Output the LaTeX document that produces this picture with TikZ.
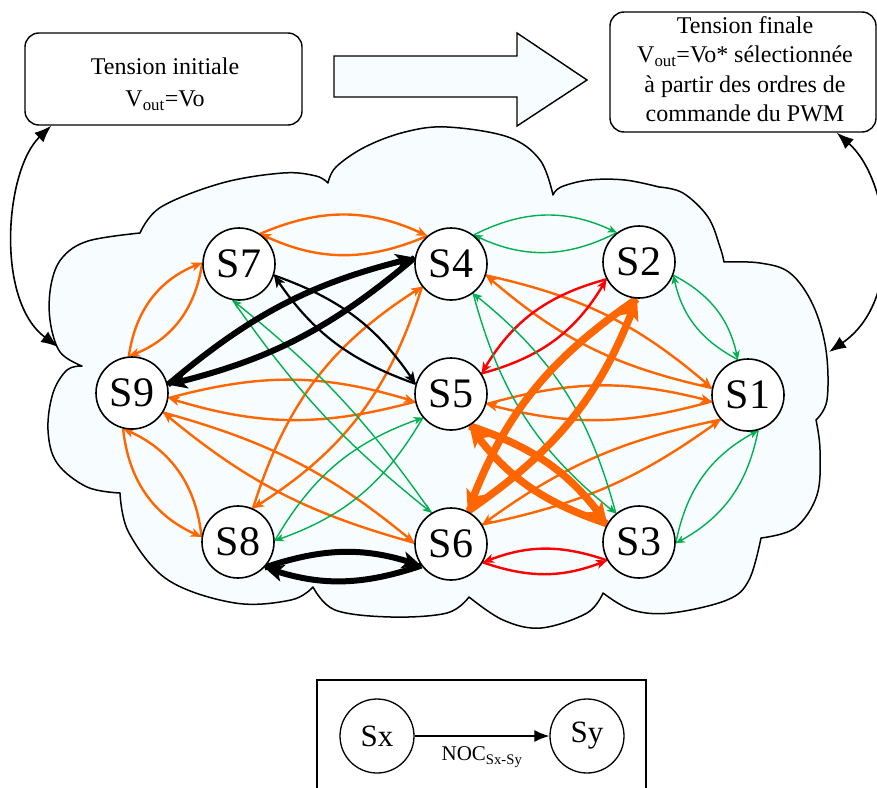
\documentclass[tikz,border=0pt]{standalone}
\usepackage{fontspec}
\setmainfont{Liberation Serif}
\usetikzlibrary{arrows.meta,backgrounds}
\definecolor{orng}{RGB}{255,102,0}
\definecolor{grn}{RGB}{0,176,80}
\definecolor{rdd}{RGB}{255,0,0}
\definecolor{cloudfill}{RGB}{247,252,254}
\begin{document}
\begin{tikzpicture}[x=1pt,y=-1pt,
  st/.style={circle,draw,line width=1.6pt,fill=white,minimum size=72pt,inner sep=0pt,font=\fontsize{42}{42}\selectfont},
  lg/.style={circle,draw,line width=1.3pt,fill=white,minimum size=74pt,inner sep=0pt,font=\fontsize{31}{31}\selectfont},
  box/.style={draw,line width=1.4pt,rounded corners=14pt,fill=white},
  btxt/.style={align=center,font=\fontsize{24}{29.5}\selectfont,inner sep=0pt},
  eOr/.style={draw=orng,line width=2.4pt,-{Stealth[length=11pt,width=9pt,inset=3pt]},orng},
  eRd/.style={draw=rdd,line width=2.4pt,-{Stealth[length=11pt,width=9pt,inset=3pt]},rdd},
  eGr/.style={draw=grn,line width=1.4pt,-{Stealth[length=9pt,width=7.5pt,inset=2.5pt]},grn},
  eBk/.style={draw=black,line width=2.2pt,-{Stealth[length=12pt,width=10pt,inset=3pt]}},
  eBkT/.style={draw=black,line width=6pt,-{Stealth[length=19pt,width=17pt,inset=5pt]}},
  eOrT/.style={draw=orng,line width=7.5pt,-{Stealth[length=21pt,width=19pt,inset=5pt]},orng},
  dbl/.style={line width=1.6pt,{Latex[length=17pt,width=13pt]}-{Latex[length=17pt,width=13pt]}},
]
\useasboundingbox (0,0) rectangle (877,787);

% cloud
\begin{scope}[on background layer]
\filldraw[fill=cloudfill,line width=1.5pt,line join=round]
  plot[smooth,tension=0.6] coordinates {(82,366) (60,352) (50,320) (51,285) (62,258) (88,241) (140,233)}
  -- plot[smooth,tension=0.6] coordinates {(140,233) (161,207) (222,183) (283,173) (316,176) (328,183)}
  -- plot[smooth,tension=0.6] coordinates {(328,183) (336,167) (365,147) (405,132) (447,127) (508,137) (540,160) (553,195)}
  -- plot[smooth,tension=0.6] coordinates {(553,195) (561,187) (589,180) (625,180) (659,187)}
  -- plot[smooth,tension=0.6] coordinates {(659,187) (683,193) (708,217) (720,247) (724,262)}
  -- plot[smooth,tension=0.6] coordinates {(724,262) (760,263) (790,273) (813,305) (826,350) (827,400) (816,420)}
  -- plot[smooth,tension=0.6] coordinates {(816,420) (820,450) (817,495) (795,528) (761,538)}
  -- plot[smooth,tension=0.6] coordinates {(761,538) (749,580) (727,600) (671,613) (632,610) (603,593)}
  -- plot[smooth,tension=0.6] coordinates {(603,593) (587,613) (541,628) (503,620) (469,597)}
  -- plot[smooth,tension=0.6] coordinates {(469,597) (447,613) (391,617) (335,610) (313,587)}
  -- plot[smooth,tension=0.6] coordinates {(313,587) (291,600) (235,603) (168,580) (129,533) (120,493)}
  -- plot[smooth,tension=0.6] coordinates {(120,493) (87,487) (57,463) (48,430) (53,393) (67,370) (82,366)}
  -- cycle;
\end{scope}

% top boxes and big arrow
\node[box,minimum width=277pt,minimum height=92pt] (lbox) at (163.5,79) {};
\node[btxt] (ltxt) at (165,84) {Tension initiale\\[3pt]V\textsubscript{out}=Vo};
\node[box,minimum width=266pt,minimum height=120pt] (rbox) at (743,72) {};
\node[btxt] (rtxt) at (745,69) {Tension finale\\V\textsubscript{out}=Vo* sélectionnée\\à partir des ordres de\\commande du PWM};
\filldraw[fill=cloudfill,line width=1.4pt,line join=miter]
  (334,56) -- (517,56) -- (517,33) -- (587,80) -- (517,126) -- (517,97) -- (334,97) -- cycle;

% states
\node[st] (S7) at (239,264) {S7};
\node[st] (S4) at (451,264) {S4};
\node[st] (S2) at (639,262) {S2};
\node[st] (S9) at (132,393) {S9};
\node[st] (S5) at (451,394) {S5};
\node[st] (S1) at (748,395) {S1};
\node[st] (S8) at (238,542) {S8};
\node[st] (S6) at (451,544) {S6};
\node[st] (S3) at (639,542) {S3};

% connectors to the boxes
\coordinate (la) at ([xshift=27pt]lbox.south west);
\coordinate (lc) at (58,347);
\coordinate (ra) at ([xshift=-40pt]rbox.south east);
\coordinate (rc) at (829,352);
\draw[dbl] (la) .. controls (5,170) and (-5,300) .. (lc);
\draw[dbl] (ra) .. controls (890,180) and (905,300) .. (rc);

\begin{scope}[on background layer]
% orange thin
\draw[eOr] (S7.55) to[bend left=24] (S4.130);
\draw[eOr] (S4.130) to[bend left=24] (S7.55);
\draw[eOr] (S9.95) to[bend left=30] (S7.178);
\draw[eOr] (S7.178) to[bend left=30] (S9.95);
\draw[eOr] (S9.256) to[bend right=30] (S8.172);
\draw[eOr] (S8.172) to[bend right=30] (S9.256);
\draw[eOr] (S9.352) to[bend left=16] (S5.192);
\draw[eOr] (S5.192) to[bend left=16] (S9.352);
\draw[eOr] (S9.328) to[bend left=12] (S6.178);
\draw[eOr] (S6.178) to[bend left=12] (S9.328);
\draw[eOr] (S8.66) to[bend left=20] (S4.218);
\draw[eOr] (S4.218) to[bend left=20] (S8.66);
\draw[eOr] (S4.342) to[bend left=14] (S1.169);
\draw[eOr] (S1.169) to[bend left=14] (S4.342);
\draw[eOr] (S5.344) to[bend left=15] (S1.190);
\draw[eOr] (S1.190) to[bend left=15] (S5.344);
\draw[eOr] (S6.32) to[bend right=12] (S1.222);
\draw[eOr] (S1.222) to[bend right=12] (S6.32);
% red
\draw[eRd] (S5.34) to[bend right=22] (S2.208);
\draw[eRd] (S2.208) to[bend right=22] (S5.34);
\draw[eRd] (S6.330) to[bend right=20] (S3.210);
\draw[eRd] (S3.210) to[bend right=20] (S6.330);
% green
\draw[eGr] (S4.52) to[bend left=26] (S2.127);
\draw[eGr] (S2.127) to[bend left=26] (S4.52);
\draw[eGr] (S2.339) to[bend left=25] (S1.106);
\draw[eGr] (S1.106) to[bend left=25] (S2.339);
\draw[eGr] (S3.358) to[bend left=25] (S1.286);
\draw[eGr] (S1.286) to[bend left=25] (S3.358);
\draw[eGr] (S7.260) to[bend right=8] (S6.122);
\draw[eGr] (S6.122) to[bend right=8] (S7.260);
\draw[eGr] (S4.307) to[bend right=18] (S3.129);
\draw[eGr] (S3.129) to[bend right=18] (S4.307);
\draw[eGr] (S8.2) to[bend left=20] (S5.220);
\draw[eGr] (S5.220) to[bend left=20] (S8.2);
% black thin
\draw[eBk] (S7.342) to[bend left=18] (S5.164);
\draw[eBk] (S5.164) to[bend left=18] (S7.342);
% black thick
\draw[eBkT] (S9.13) to[bend left=13] (S4.170);
\draw[eBkT] (S4.170) to[bend left=13] (S9.13);
\draw[eBkT] (S8.316) to[bend left=18] (S6.216);
\draw[eBkT] (S6.216) to[bend left=18] (S8.316);
% orange thick
\draw[eOrT] (S2.267) to[bend right=17] (S6.63);
\draw[eOrT] (S6.63) to[bend right=17] (S2.267);
\draw[eOrT] (S5.300) to[bend left=17] (S3.150);
\draw[eOrT] (S3.150) to[bend left=17] (S5.300);
\end{scope}

% legend
\draw[line width=1.4pt] (317,680) rectangle (646,800);
\node[lg] (Sx) at (377,736) {Sx};
\node[lg] (Sy) at (587,736) {Sy};
\draw[line width=1.4pt,-{Latex[length=15pt,width=12pt]}] (Sx) -- (Sy)
  node[midway,below=7pt,font=\fontsize{21}{21}\selectfont] (noc) {NOC\textsubscript{Sx-Sy}};
\end{tikzpicture}
\end{document}
